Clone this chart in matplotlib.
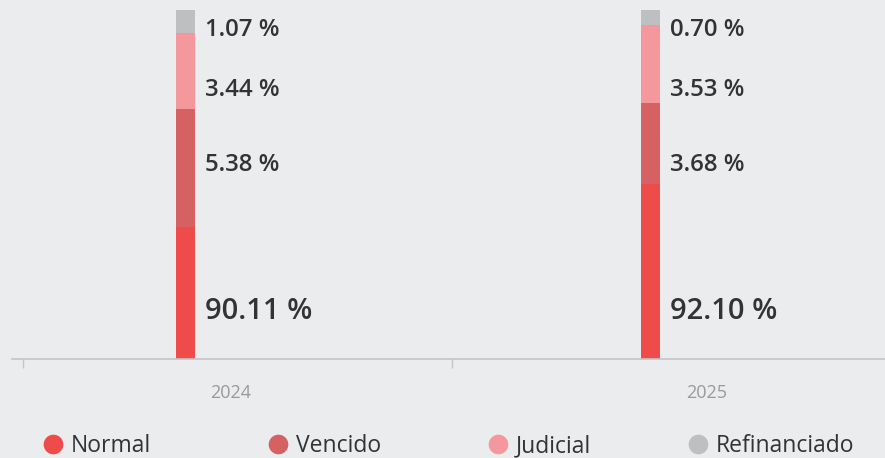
import numpy as np
import matplotlib.pyplot as plt
from matplotlib import transforms

years = ['2024', '2025']
normal = [90.11, 92.10]
vencido = [5.38, 3.68]
judicial = [3.44, 3.53]
refinanciado = [1.07, 0.70]
series_names = ['Normal', 'Vencido', 'Judicial', 'Refinanciado']
colors = ['#EF4B4B', '#D66162', '#F4989E', '#BEBFC1']

bg = '#EBECEE'
txt = '#333333'

W, H = 885, 458
fig = plt.figure(figsize=(W / 100, H / 100), dpi=100, facecolor=bg)
ax = fig.add_axes([12 / W, (H - 358.5) / H, 1 - 12 / W, 358.5 / H], facecolor=bg)

x = np.arange(len(years))
width = 0.041
series = [normal, vencido, judicial, refinanciado]
bottom = np.zeros(len(years))
for vals, c in zip(series, colors):
    ax.bar(x, vals, width, bottom=bottom, color=c, linewidth=0)
    bottom += np.array(vals)

ax.set_ylim(84.15, 100.45)
ax.set_xlim(-0.373, 1.504)

# value labels (fixed heights, axes fraction)
label_y = [0.132, 0.539, 0.749, 0.915]
label_size = [21, 17.3, 17.3, 17.3]
blend = transforms.blended_transform_factory(ax.transData, ax.transAxes)
for i in range(len(years)):
    for vals, ly, fs in zip(series, label_y, label_size):
        ax.text(x[i] + width / 2 + 0.022, ly, f'{vals[i]:.2f} %', transform=blend,
                ha='left', va='center', fontsize=fs, fontweight='semibold',
                family='Open Sans', color=txt)

# axis
for s in ['top', 'right', 'left']:
    ax.spines[s].set_visible(False)
ax.spines['bottom'].set_color('#C4C4C4')
ax.spines['bottom'].set_linewidth(1.2)
ax.set_yticks([])
ax.set_xticks([-0.349, 0.573])
ax.set_xticklabels([])
ax.tick_params(axis='x', length=6.5, width=1, color='#C4C4C4')

# category labels
for xi, yr in zip([0.098, 1.121], years):
    ax.text(xi, -(393 - 358.5) / 358.5, yr, transform=blend,
            ha='center', va='center', fontsize=13, family='Open Sans', color='#9A9A9A')

# legend
leg_x = [53, 278, 498, 698]
for lx, name, c in zip(leg_x, series_names, colors):
    ax.scatter([lx / W], [1 - 444 / H], s=200, color=c, linewidths=0,
               transform=fig.transFigure, clip_on=False)
    fig.text((lx + 18) / W, 1 - 446 / H, name, ha='left', va='center', fontsize=16.5,
             family='Open Sans', color=txt)

fig.savefig('out.png', dpi=100, facecolor=bg)
